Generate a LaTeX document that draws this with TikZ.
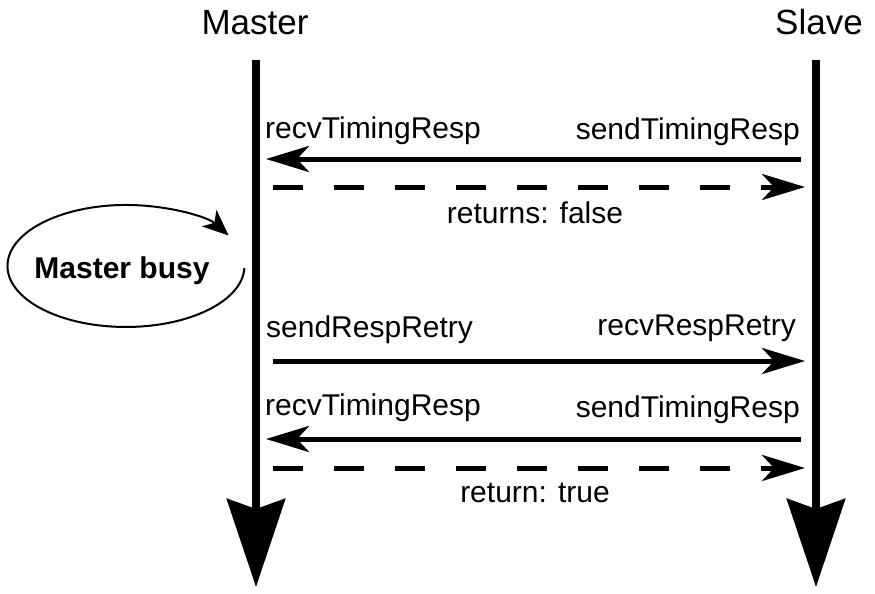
\documentclass[tikz,border=0pt]{standalone}
\usepackage{fontspec}
\setmainfont{Liberation Sans}
\usetikzlibrary{arrows.meta}
\begin{document}
\begin{tikzpicture}[x=1pt,y=-1pt,
  lifeline/.style={line width=8pt, -{Stealth[length=88pt,width=58pt,inset=10pt]}},
  msg/.style={line width=5pt, -{Stealth[length=43pt,width=26pt,inset=12pt]}},
  reply/.style={msg, dash pattern=on 30pt off 31pt},
  lbl/.style={font=\fontsize{30}{36}\selectfont, inner sep=0pt},
  title/.style={font=\fontsize{35}{42}\selectfont, inner sep=0pt},
  loop/.style={line width=2pt, -{Stealth[length=26pt,width=22pt,inset=7pt]}},
]
\useasboundingbox (0,0) rectangle (875,594);

% lifelines
\coordinate (mtop) at (256,60);
\coordinate (mbot) at (256,587);
\coordinate (stop) at (816,60);
\coordinate (sbot) at (816,587);
\draw[lifeline] (mtop) -- (mbot);
\draw[lifeline] (stop) -- (sbot);

\node[title, anchor=base] (master) at (255,35) {Master};
\node[title, anchor=base] (slave) at (819,35) {Slave};

% first timing response, refused
\coordinate (s1) at (801,159);
\coordinate (m1) at (266,159);
\draw[msg] (s1) -- (m1);
\node[lbl, anchor=base west] (recv1) at (265,138) {recvTimingResp};
\node[lbl, anchor=base east] (send1) at (800,139) {sendTimingResp};

\coordinate (m2) at (273,187);
\coordinate (s2) at (805,187);
\draw[reply] (m2) -- (s2);
\node[lbl, anchor=base] (ret1) at (535,223) {returns: false};

% busy loop
\node[lbl, font=\fontsize{30}{36}\selectfont\bfseries, anchor=base] (busy) at (122,278) {Master busy};
\draw[loop] (244.4,268.1) arc[start angle=2, end angle=330, x radius=118.5, y radius=61];

% retry
\coordinate (m3) at (273,361);
\coordinate (s3) at (805,361);
\draw[msg] (m3) -- (s3);
\node[lbl, anchor=base west] (sendretry) at (266,337) {sendRespRetry};
\node[lbl, anchor=base east] (recvretry) at (796,335) {recvRespRetry};

% second timing response, accepted
\coordinate (s4) at (801,439);
\coordinate (m4) at (266,439);
\draw[msg] (s4) -- (m4);
\node[lbl, anchor=base west] (recv2) at (265,415) {recvTimingResp};
\node[lbl, anchor=base east] (send2) at (800,417) {sendTimingResp};

\coordinate (m5) at (273,468);
\coordinate (s5) at (805,468);
\draw[reply] (m5) -- (s5);
\node[lbl, anchor=base] (ret2) at (535,502) {return: true};
\end{tikzpicture}
\end{document}
